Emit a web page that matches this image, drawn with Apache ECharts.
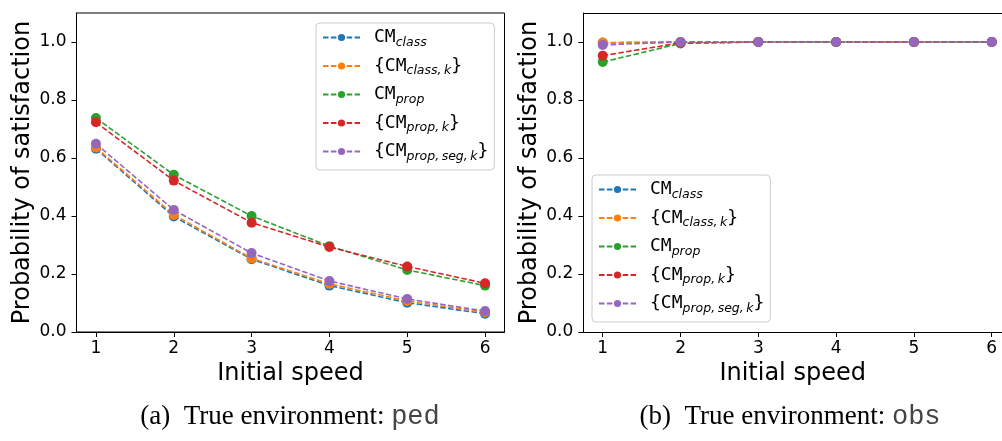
<!DOCTYPE html>
<html>
<head>
<meta charset="utf-8">
<script src="https://cdn.jsdelivr.net/npm/echarts@6/dist/echarts.min.js"></script>
<style>
  html, body { margin: 0; padding: 0; background: #fff; }
  #chart { width: 1002px; height: 441px; }
</style>
</head>
<body>
<div id="chart"></div>
<script>
// 横坐标：初始速度
const speeds = [1, 2, 3, 4, 5, 6];
const yTicks = [0, 0.2, 0.4, 0.6, 0.8, 1.0];

const seriesNames = ['CM_class', '{CM_class,k}', 'CM_prop', '{CM_prop,k}', '{CM_prop,seg,k}'];
const seriesColors = ['#1f77b4', '#ff7f0e', '#2ca02c', '#d62728', '#9467bd'];

// (a) 真实环境 ped
const pedClass = [0.632, 0.398, 0.251, 0.160, 0.101, 0.063];
const pedClassK = [0.636, 0.404, 0.254, 0.166, 0.107, 0.068];
const pedProp = [0.738, 0.542, 0.400, 0.296, 0.214, 0.160];
const pedPropK = [0.723, 0.522, 0.377, 0.293, 0.226, 0.168];
const pedPropSegK = [0.649, 0.421, 0.272, 0.176, 0.114, 0.072];

// (b) 真实环境 obs
const obsClass = [0.997, 1.0, 1.0, 1.0, 1.0, 1.0];
const obsClassK = [0.998, 1.0, 1.0, 1.0, 1.0, 1.0];
const obsProp = [0.931, 0.995, 1.0, 1.0, 1.0, 1.0];
const obsPropK = [0.953, 0.997, 1.0, 1.0, 1.0, 1.0];
const obsPropSegK = [0.990, 1.0, 1.0, 1.0, 1.0, 1.0];

const pedData = [pedClass, pedClassK, pedProp, pedPropK, pedPropSegK];
const obsData = [obsClass, obsClassK, obsProp, obsPropK, obsPropSegK];

// 图例文字（下标用富文本）
const legendLabels = {
  'CM_class': 'CM{s|class}',
  '{CM_class,k}': '{CM{s|class,\u2009k}}',
  'CM_prop': 'CM{s|prop}',
  '{CM_prop,k}': '{CM{s|prop,\u2009k}}',
  '{CM_prop,seg,k}': '{CM{s|prop,\u2009seg,\u2009k}}',
};

const tickFont = { fontFamily: 'DejaVu Sans', fontSize: 17, color: '#000' };

function makeX(gridIndex, max) {
  return {
    type: 'value', gridIndex, min: 0.75, max,
    name: 'Initial speed', nameLocation: 'middle', nameGap: 28,
    nameTextStyle: { fontFamily: 'DejaVu Sans', fontSize: 24, color: '#000' },
    axisLine: { show: true, lineStyle: { color: '#000', width: 1 } },
    axisTick: { show: true, length: 5, customValues: speeds, lineStyle: { color: '#000' } },
    axisLabel: Object.assign({ margin: 8, customValues: speeds }, tickFont),
    splitLine: { show: false },
  };
}

function makeY(gridIndex) {
  return {
    type: 'value', gridIndex, min: 0, max: 1.1,
    name: 'Probability of satisfaction', nameLocation: 'middle', nameGap: 42,
    nameTextStyle: { fontFamily: 'DejaVu Sans', fontSize: 24, color: '#000' },
    axisLine: { show: true, lineStyle: { color: '#000', width: 1 } },
    axisTick: { show: true, length: 5, customValues: yTicks, lineStyle: { color: '#000' } },
    axisLabel: Object.assign({ margin: 10, customValues: yTicks, formatter: v => v.toFixed(1) }, tickFont),
    splitLine: { show: false },
  };
}

function makeSeries(dataList, axisIndex) {
  return dataList.map((vals, i) => ({
    name: seriesNames[i],
    type: 'line',
    xAxisIndex: axisIndex, yAxisIndex: axisIndex,
    data: speeds.map((s, j) => [s, vals[j]]),
    symbol: 'circle', symbolSize: 10,
    itemStyle: { color: seriesColors[i] },
    lineStyle: { color: seriesColors[i], width: 1.6, type: [5.5, 2.4] },
    animation: false,
    z: 2 + i,
  }));
}

function makeLegend(left, top) {
  return {
    orient: 'vertical', left, top,
    data: seriesNames,
    itemWidth: 37, itemHeight: 9, itemGap: 5.5,
    padding: [3, 6, 7, 6],
    backgroundColor: 'rgba(255,255,255,0.8)',
    borderColor: '#cccccc', borderWidth: 1, borderRadius: 4,
    formatter: name => legendLabels[name],
    textStyle: {
      fontFamily: 'DejaVu Sans Mono', fontSize: 18, color: '#000', lineHeight: 23,
      padding: [0, 0, 0, 9],
      rich: {
        s: { fontFamily: 'DejaVu Sans', fontStyle: 'italic', fontSize: 12.5, color: '#000',
             verticalAlign: 'bottom', lineHeight: 14 },
      },
    },
  };
}

// 右图在原图中被裁切：不画右边框，只用一条顶部轴线补上边框
const topLine = {
  type: 'value', gridIndex: 1, min: 0.75, max: 6.132, position: 'top',
  axisLine: { show: true, lineStyle: { color: '#000', width: 1 } },
  axisTick: { show: false }, axisLabel: { show: false }, splitLine: { show: false },
};

const chart = echarts.init(document.getElementById('chart'));
chart.setOption({
  backgroundColor: '#fff',
  animation: false,
  grid: [
    { left: 76.5, top: 13, width: 428, height: 319, show: true, borderColor: '#000', borderWidth: 1 },
    { left: 583.3, top: 13, width: 418.7, height: 319 },
  ],
  xAxis: [makeX(0, 6.25), makeX(1, 6.132), topLine],
  yAxis: [makeY(0), makeY(1)],
  legend: [makeLegend(316, 23), makeLegend(592, 175)],
  series: makeSeries(pedData, 0).concat(makeSeries(obsData, 1)),
  graphic: [
    {
      type: 'text', x: 290, y: 417,
      style: {
        text: '{a|(a)  True environment: }{b|ped}', align: 'center', verticalAlign: 'middle',
        rich: {
          a: { fontFamily: 'Liberation Serif', fontSize: 27, fill: '#000' },
          b: { fontFamily: 'Liberation Mono', fontSize: 27, fill: '#444' },
        },
      },
    },
    {
      type: 'text', x: 790, y: 417,
      style: {
        text: '{a|(b)  True environment: }{b|obs}', align: 'center', verticalAlign: 'middle',
        rich: {
          a: { fontFamily: 'Liberation Serif', fontSize: 27, fill: '#000' },
          b: { fontFamily: 'Liberation Mono', fontSize: 27, fill: '#444' },
        },
      },
    },
  ],
});
</script>
</body>
</html>
